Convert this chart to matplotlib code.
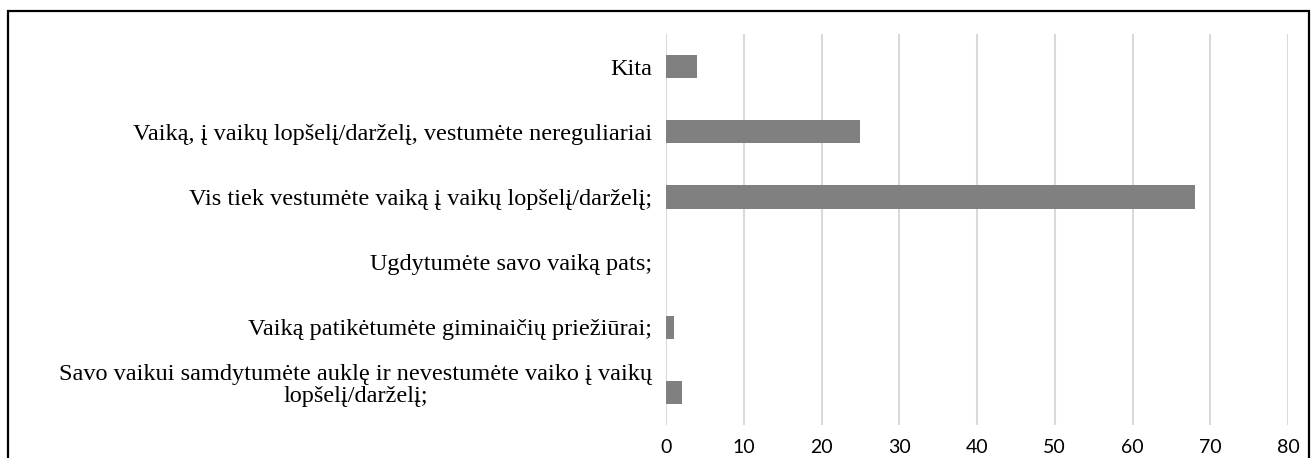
import matplotlib.pyplot as plt
from matplotlib.patches import Rectangle

# atsakymu kategorijos (is apacios i virsu)
categories = [
    "Savo vaikui samdytumėte auklę ir nevestumėte vaiko į vaikų\nlopšelį/darželį;",
    "Vaiką patikėtumėte giminaičių priežiūrai;",
    "Ugdytumėte savo vaiką pats;",
    "Vis tiek vestumėte vaiką į vaikų lopšelį/darželį;",
    "Vaiką, į vaikų lopšelį/darželį, vestumėte nereguliariai",
    "Kita",
]
values = [2, 1, 0, 68, 25, 4]
xticks = [0, 10, 20, 30, 40, 50, 60, 70, 80]

fig = plt.figure(figsize=(13.16, 4.58), dpi=100)
ax = fig.add_axes([666/1316, 1-425/458, (1288-666)/1316, (425-34)/458])

ypos = list(range(len(categories)))
ax.barh(ypos, values, height=0.36, color='#808080', linewidth=0, zorder=3)

ax.set_xlim(0, 80)
ax.set_ylim(-0.5, len(categories)-0.5)
ax.set_xticks(xticks)
ax.set_yticks(ypos)
# dvieju eiluciu etikete dedama atskirai (kad butu centruota)
labels = [c if '\n' not in c else '' for c in categories]
ax.set_yticklabels(labels, fontfamily='Liberation Serif', fontsize=17.5)
for y, c in zip(ypos, categories):
    if '\n' in c:
        ax.annotate(c, xy=(0, y), xycoords=('axes fraction', 'data'),
                    xytext=(-10, 5), textcoords='offset points',
                    ha='right', va='center', multialignment='center',
                    linespacing=1.1, fontfamily='Liberation Serif',
                    fontsize=17.5)
for lab in ax.get_xticklabels():
    lab.set_fontfamily('Lato')
    lab.set_fontsize(14)

ax.grid(axis='x', color='#d9d9d9', linewidth=1.5, zorder=0)
ax.tick_params(axis='both', length=0)
ax.tick_params(axis='y', pad=10)
ax.tick_params(axis='x', pad=10)
for s in ax.spines.values():
    s.set_visible(False)

# remelis aplink diagrama
fig.patches.append(Rectangle((8/1316, -0.05), (1309-8)/1316, 1.05-11/458,
                             transform=fig.transFigure, fill=False,
                             edgecolor='black', linewidth=1.6))

fig.savefig('out.png', dpi=100)
